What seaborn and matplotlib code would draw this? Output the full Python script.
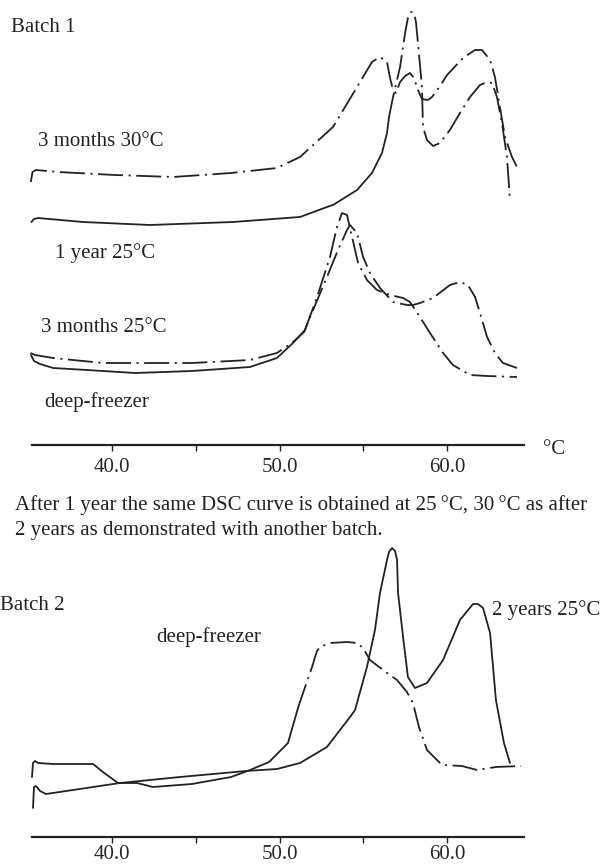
import numpy as np
import pandas as pd
import seaborn as sns
import matplotlib.pyplot as plt

# ---- Batch 1 curves (temperature in °C, signal in arbitrary units) ----
# 3 months 30°C (dash-dot)
a_temp = [35.13, 35.23, 35.44, 36.75, 40.16, 43.63, 47.10, 49.84, 51.22, 53.19,
          54.63, 55.52, 56.00, 56.42, 56.60, 56.78, 56.96, 57.20, 57.50, 57.79,
          58.03, 58.27, 58.51, 58.87, 59.11, 59.59, 60.01, 60.96, 61.68, 62.10,
          62.58, 62.87, 63.17, 63.47, 63.89, 64.19]
a_signal = [263, 273, 275, 273, 270, 268, 272, 277, 288, 318,
            358, 383, 388, 383, 367, 355, 352, 363, 369, 372,
            367, 355, 346, 345, 348, 359, 370, 387, 395, 395,
            385, 368, 338, 308, 288, 278]

# 1 year 25°C (solid, then dash-dot from the switch temperature on)
b_temp = [35.17, 35.32, 35.56, 38.25, 42.25, 47.21, 51.22, 52.83, 53.19, 54.63,
          55.52, 56.12, 56.42, 56.54, 56.78, 57.20, 57.50, 57.67, 57.85, 58.03,
          58.15, 58.27, 58.51, 58.57, 58.81, 59.17, 59.59, 60.18, 60.78, 61.38,
          61.98, 62.40, 62.70, 62.99, 63.29, 63.59, 63.77]
b_signal = [223, 226, 227, 223, 220, 223, 228, 238, 240, 255,
            272, 292, 312, 328, 348, 378, 412, 427, 433, 432,
            423, 402, 358, 318, 305, 299, 302, 315, 332, 348,
            360, 363, 362, 348, 322, 288, 245]
b_switch = 56.54

# 3 months 25°C (dash-dot)
c_temp = [35.11, 35.38, 36.46, 39.44, 42.43, 44.76, 48.23, 49.84, 50.74, 51.46,
          52.00, 52.83, 53.49, 54.03, 54.21, 54.63, 54.99, 55.40, 56.00, 56.78,
          57.61, 57.97, 58.39, 59.17, 60.18, 60.78, 61.26, 61.68, 61.98, 62.40,
          62.87, 63.35, 64.19]
c_signal = [92, 90, 87, 82, 82, 82, 85, 92, 102, 113,
            135, 168, 195, 215, 220, 212, 188, 172, 157, 143,
            140, 140, 142, 147, 160, 163, 160, 148, 132, 108,
            92, 82, 77]

# deep-freezer, batch 1 (solid, then dash-dot)
d_temp = [35.14, 35.32, 35.68, 36.46, 38.49, 41.36, 44.76, 48.23, 49.84, 50.80,
          51.52, 52.24, 53.01, 53.43, 53.73, 54.03, 54.33, 54.69, 55.22, 55.82,
          56.60, 57.38, 57.79, 58.39, 58.99, 59.77, 60.36, 61.38, 62.40, 64.19]
d_signal = [90, 84, 81, 77, 75, 72, 74, 78, 87, 102,
            115, 148, 188, 218, 232, 230, 208, 182, 165, 155,
            150, 147, 143, 128, 112, 92, 80, 70, 69, 68]
d_switch = 51.52

# ---- Batch 2 curves ----
# 2 years 25°C (solid)
e_temp = [35.26, 35.32, 35.44, 35.68, 36.04, 40.46, 44.05, 47.99, 49.84, 51.22,
          52.83, 54.21, 54.51, 55.22, 55.70, 56.00, 56.42, 56.54, 56.72, 56.90,
          57.02, 57.08, 57.38, 57.67, 58.09, 58.81, 59.77, 60.78, 61.56, 61.86,
          62.16, 62.58, 62.93, 63.41, 63.77]
e_signal = [29, 50, 51, 46, 43, 54, 60, 66, 68, 74,
            90, 120, 127, 170, 207, 244, 277, 285, 289, 286,
            277, 244, 200, 160, 149, 154, 177, 217, 233, 233,
            229, 204, 137, 94, 74]

# deep-freezer, batch 2 (solid, then dash-dot)
f_temp = [35.20, 35.26, 35.38, 35.56, 36.46, 38.85, 39.44, 40.34, 41.48, 42.43,
          44.76, 47.10, 48.23, 49.37, 50.50, 51.10, 51.40, 51.94, 52.12, 52.24,
          52.41, 53.01, 54.03, 54.63, 54.99, 55.40, 56.42, 57.02, 57.61, 57.97,
          58.33, 58.81, 59.71, 60.90, 61.80, 62.93, 64.43]
f_signal = [60, 74, 76, 74, 73, 73, 65, 54, 54, 50,
            53, 60, 67, 75, 94, 129, 144, 170, 180, 186,
            190, 194, 195, 194, 189, 177, 164, 157, 145, 134,
            110, 87, 72, 71, 67, 70, 71]
f_switch = 51.10

tick_major = [40, 50, 60]
tick_labels = ['40.0', '50.0', '60.0']
tick_minor = [45, 55]

INK = '#222222'
DASHDOT = (0, (18, 4, 1.5, 4))
FS = 15

sns.set_theme(style="white")
plt.rcParams['font.family'] = ['Liberation Serif', 'DejaVu Serif']
plt.rcParams['lines.scale_dashes'] = False
plt.rcParams['text.color'] = INK

W, H = 602, 866
fig = plt.figure(figsize=(W / 100, H / 100), dpi=100)
fig.patch.set_facecolor('white')


def panel(top, bottom, pad):
    ax = fig.add_axes([0, 1 - bottom / H, 1, (bottom - top) / H])
    ax.set_facecolor('none')
    ax.set_xlim(33.288, 69.27)
    ax.set_ylim(0, bottom - top)
    for s in ['top', 'left', 'right']:
        ax.spines[s].set_visible(False)
    ax.spines['bottom'].set_bounds(35.2, 64.6)
    ax.spines['bottom'].set_linewidth(1.6)
    ax.spines['bottom'].set_color(INK)
    ax.set_xticks(tick_major)
    ax.set_xticklabels(tick_labels, fontsize=FS)
    ax.set_xticks(tick_minor, minor=True)
    ax.tick_params(axis='x', which='both', direction='out', length=4, width=1,
                   color=INK, bottom=True, pad=pad)
    ax.set_yticks([])
    return ax


def draw(ax, temp, signal, style, lo=None, hi=None):
    df = pd.DataFrame({'T': temp, 'q': signal})
    if lo is not None:
        df = df[df['T'] >= lo]
    if hi is not None:
        df = df[df['T'] <= hi]
    sns.lineplot(data=df, x='T', y='q', ax=ax, sort=False, estimator=None,
                 color=INK, linewidth=1.3, linestyle=style)


ax1 = panel(0, 445, 5)
draw(ax1, a_temp, a_signal, DASHDOT)
draw(ax1, b_temp, b_signal, '-', hi=b_switch)
draw(ax1, b_temp, b_signal, DASHDOT, lo=b_switch)
draw(ax1, c_temp, c_signal, DASHDOT)
draw(ax1, d_temp, d_signal, '-', hi=d_switch)
draw(ax1, d_temp, d_signal, DASHDOT, lo=d_switch)
ax1.set_xlabel('')
ax1.set_ylabel('')

ax2 = panel(545, 837, 2)
draw(ax2, e_temp, e_signal, '-')
draw(ax2, f_temp, f_signal, '-', hi=f_switch)
draw(ax2, f_temp, f_signal, DASHDOT, lo=f_switch)
ax2.set_xlabel('')
ax2.set_ylabel('')


def label(x, y, s, size=FS):
    fig.text(x / W, 1 - y / H, s, ha='left', va='center', fontsize=size, color=INK)


label(11, 28, 'Batch 1')
label(38, 142, '3 months 30°C')
label(55, 253, '1 year 25°C')
label(41, 328, '3 months 25°C')
label(44, 402, 'deep-freezer')
label(543, 450, '°C')
label(15, 505, 'After 1 year the same DSC curve is obtained at 25\u2009°C, 30\u2009°C as after')
label(15, 531, '2 years as demonstrated with another batch.')
label(0, 605, 'Batch 2')
label(156, 637, 'deep-freezer')
label(492, 610, '2 years 25°C')

fig.savefig('out.png', dpi=100)
